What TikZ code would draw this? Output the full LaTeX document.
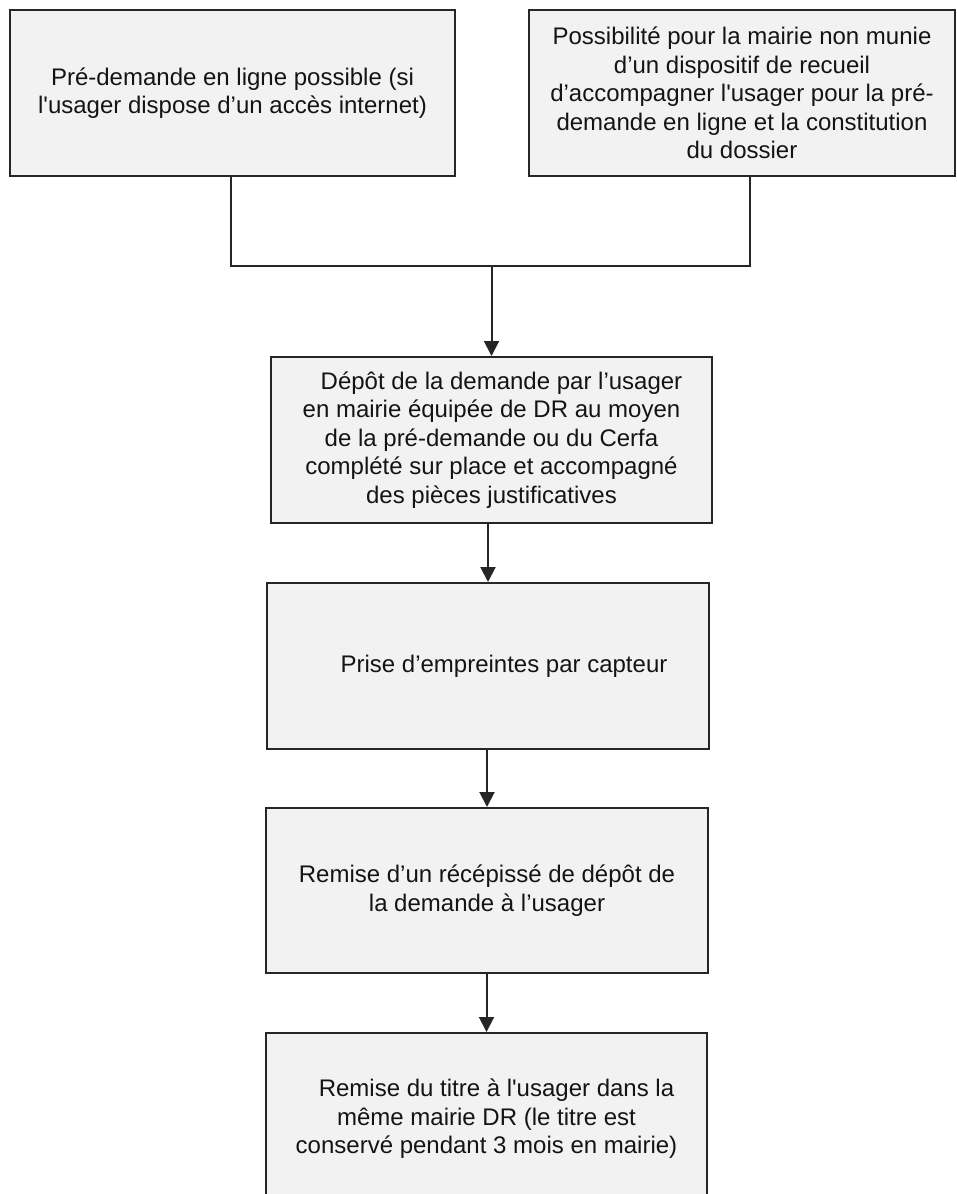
\documentclass[tikz,border=0pt]{standalone}
\usepackage{fontspec}
\setmainfont{Liberation Sans}
\usetikzlibrary{arrows.meta}
\begin{document}
\begin{tikzpicture}[x=1pt,y=-1pt,
  box/.style={draw=black!85, line width=2pt, fill=black!5, align=center, inner sep=0pt,
    font=\fontsize{24}{28.5}\selectfont, text=black!92},
  conn/.style={draw=black!85, line width=2pt},
  arr/.style={conn, -{Triangle[width=15pt,length=15pt]}}]
\useasboundingbox (0,0) rectangle (957,1194);
\fill[white] (0,0) rectangle (957,1194);
\begin{scope}
\clip (0,0) rectangle (957,1194);
\node[box, minimum width=445pt, minimum height=166pt] (b1) at (232.5,93)
  {Pré-demande en ligne possible (si\\ l\textquotesingle usager dispose d’un accès internet)};
\node[box, minimum width=426pt, minimum height=166pt] (b2) at (742,93)
  {Possibilité pour la mairie non munie\\ d’un dispositif de recueil\\ d’accompagner l\textquotesingle usager pour la pré-\\ demande en ligne et la constitution\\ du dossier};
\node[box, minimum width=441pt, minimum height=166pt] (b3) at (491.5,440)
  {\hspace*{20pt}Dépôt de la demande par l’usager\\ en mairie équipée de DR au moyen\\ de la pré-demande ou du Cerfa\\ complété sur place et accompagné\\ des pièces justificatives};
\node[box, minimum width=442pt, minimum height=166pt] (b4) at (488,666)
  {\hspace*{32pt}Prise d’empreintes par capteur};
\node[box, minimum width=442pt, minimum height=165pt] (b5) at (487,890.5)
  {Remise d’un récépissé de dépôt de\\ la demande à l’usager};
\node[box, minimum width=441pt, minimum height=172pt] (b6) at (486.5,1119)
  {\hspace*{20pt}Remise du titre à l\textquotesingle usager dans la\\ même mairie DR (le titre est\\ conservé pendant 3 mois en mairie)};
\end{scope}
\coordinate (j1) at (231,266);
\coordinate (j2) at (750,266);
\coordinate (jm) at (491.5,266);
\draw[conn] (b1.south -| j1) -- (j1) -- (j2) -- (b2.south -| j2);
\draw[arr] (jm) -- (b3.north);
\draw[arr] (b3.south -| 488,0) -- (b4.north -| 488,0);
\draw[arr] (b4.south -| 487,0) -- (b5.north -| 487,0);
\draw[arr] (b5.south -| 486.5,0) -- (b6.north -| 486.5,0);
\end{tikzpicture}
\end{document}
